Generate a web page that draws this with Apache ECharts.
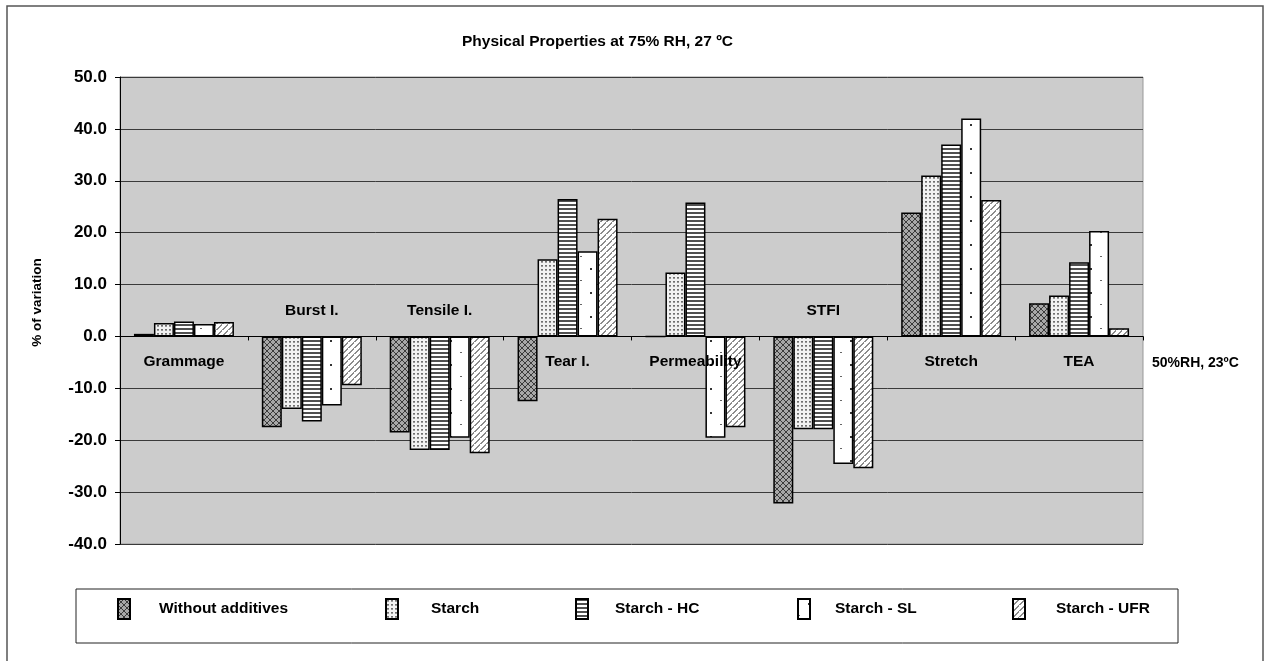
<!DOCTYPE html>
<html>
<head>
<meta charset="utf-8">
<title>Physical Properties at 75% RH, 27 ºC</title>
<script src="https://cdn.jsdelivr.net/npm/echarts@6/dist/echarts.min.js"></script>
<style>
  html, body { margin: 0; padding: 0; background: #ffffff; }
  #chart { width: 1265px; height: 661px; }
</style>
</head>
<body>
<div id="chart"></div>
<script>
// Property categories along the x axis
const categories = ['Grammage', 'Burst I.', 'Tensile I.', 'Tear I.', 'Permeability', 'STFI', 'Stretch', 'TEA'];
// Categories whose label sits above the zero line
const labelsAbove = ['Burst I.', 'Tensile I.', 'STFI'];

// % of variation (75% RH, 27 ºC vs 50% RH, 23 ºC)
const withoutAdditives = [0.5, -17.5, -18.5, -12.5, 0.0, -32.2, 23.9, 6.4];
const starch           = [2.6, -14.0, -21.9, 14.9, 12.3, -17.9, 31.0, 7.9];
const starchHC         = [2.9, -16.4, -21.9, 26.5, 25.8, -17.9, 37.0, 14.3];
const starchSL         = [2.4, -13.3, -19.5, 16.4, -19.5, -24.6, 42.0, 20.3];
const starchUFR        = [2.8, -9.4, -22.5, 22.7, -17.5, -25.4, 26.3, 1.6];

const yTicks = { min: -40, max: 50, step: 10 };

const FONT = '"Liberation Sans", Arial, sans-serif';

// Fill patterns drawn into small tiles
function tile(w, h, bg, draw) {
  const c = document.createElement('canvas');
  c.width = w; c.height = h;
  const g = c.getContext('2d');
  g.fillStyle = bg;
  g.fillRect(0, 0, w, h);
  draw(g);
  return { image: c, repeat: 'repeat' };
}
const px = (g, col, x, y, w, h) => { g.fillStyle = col; g.fillRect(x, y, w || 1, h || 1); };

const patCross = tile(6, 6, '#a8a8a8', g => {
  for (let i = 0; i < 6; i++) {
    px(g, '#3c3c3c', i, i);
    px(g, '#3c3c3c', 5 - i, i);
  }
});
const patDots = tile(4, 4, '#f2f2f2', g => {
  px(g, '#707070', 1, 1, 2, 1);
  px(g, '#9a9a9a', 1, 2, 2, 1);
});
const patHStripe = tile(4, 4, '#ffffff', g => {
  px(g, '#505050', 0, 0, 4, 2);
});
const patSparse = tile(20, 24, '#ffffff', g => {
  px(g, '#333333', 10, 4, 2, 2);
  px(g, '#666666', 0, 16, 2, 1);
});
const patDiag = tile(6, 6, '#ffffff', g => {
  for (let i = 0; i < 6; i++) {
    px(g, '#8c8c8c', (11 - i) % 6, i, 2, 1);
  }
});

const seriesDefs = [
  { name: 'Without additives', data: withoutAdditives, fill: patCross },
  { name: 'Starch',            data: starch,           fill: patDots },
  { name: 'Starch - HC',       data: starchHC,         fill: patHStripe },
  { name: 'Starch - SL',       data: starchSL,         fill: patSparse },
  { name: 'Starch - UFR',      data: starchUFR,        fill: patDiag }
];

const legendLeft = [117, 385, 575, 797, 1012];
const legendTextPad = [24, 28, 22, 20, 26];

const chart = echarts.init(document.getElementById('chart'), null, { renderer: 'canvas' });

const labelStyle = { fontFamily: FONT, fontWeight: 'bold', fontSize: 15.5, color: '#000' };

chart.setOption({
  backgroundColor: '#ffffff',
  animation: false,
  title: {
    text: 'Physical Properties at 75% RH, 27 ºC',
    left: 462,
    top: 34,
    padding: 0,
    textStyle: { fontFamily: FONT, fontWeight: 'bold', fontSize: 15.5, color: '#000' }
  },
  legend: seriesDefs.map((s, i) => ({
    data: [s.name],
    left: legendLeft[i],
    top: 598,
    padding: 0,
    icon: 'rect',
    itemWidth: 12,
    itemHeight: 20,
    selectedMode: false,
    textStyle: Object.assign({}, labelStyle, { padding: [0, 0, 10, legendTextPad[i]] })
  })),
  grid: {
    left: 120, top: 77, right: 122, bottom: 117,
    show: true,
    backgroundColor: '#cccccc',
    borderColor: '#999999',
    borderWidth: 1
  },
  xAxis: [
    {
      type: 'category',
      data: categories,
      z: 5,
      axisLine: { onZero: false, lineStyle: { color: '#000', width: 1 } },
      axisTick: { show: true, length: 4, lineStyle: { color: '#000' } },
      axisLabel: Object.assign({}, labelStyle, {
        interval: 0,
        margin: 17,
        formatter: v => (labelsAbove.includes(v) ? '' : v)
      }),
      splitLine: { show: false },
      name: '50%RH, 23ºC',
      nameLocation: 'end',
      nameGap: 9,
      nameTextStyle: {
        fontFamily: FONT, fontWeight: 'bold', fontSize: 14, color: '#000',
        align: 'left', verticalAlign: 'top', padding: [20, 0, 0, 0]
      }
    },
    {
      type: 'category',
      data: categories,
      position: 'bottom',
      z: 5,
      axisLine: { show: false, onZero: false },
      axisTick: { show: false },
      axisLabel: Object.assign({}, labelStyle, {
        interval: 0,
        inside: true,
        margin: 18,
        formatter: v => (labelsAbove.includes(v) ? v : '')
      }),
      splitLine: { show: false }
    }
  ],
  yAxis: {
    type: 'value',
    min: yTicks.min,
    max: yTicks.max,
    interval: yTicks.step,
    axisLine: { show: true, lineStyle: { color: '#000', width: 1 } },
    axisTick: { show: true, length: 5, lineStyle: { color: '#000' } },
    axisLabel: {
      fontFamily: FONT, fontWeight: 'bold', fontSize: 17, color: '#000',
      margin: 13,
      formatter: v => v.toFixed(1)
    },
    splitLine: { show: true, lineStyle: { color: '#3a3a3a', width: 1 } },
    name: '% of variation',
    nameLocation: 'middle',
    nameRotate: 90,
    nameGap: 76,
    nameTextStyle: {
      fontFamily: FONT, fontWeight: 'bold', fontSize: 13.5, color: '#000',
      padding: [0, 0, 0, 16]
    }
  },
  graphic: [
    {
      type: 'rect', silent: true, z: -1,
      shape: { x: 7, y: 6, width: 1256, height: 700 },
      style: { fill: null, stroke: '#555555', lineWidth: 1.5 }
    },
    {
      type: 'rect', silent: true, z: -1,
      shape: { x: 76, y: 589, width: 1102, height: 54 },
      style: { fill: '#ffffff', stroke: '#222222', lineWidth: 1 }
    }
  ],
  series: seriesDefs.map(s => ({
    name: s.name,
    type: 'bar',
    data: s.data,
    barWidth: 20,
    barGap: '0%',
    itemStyle: { color: s.fill, borderColor: '#000', borderWidth: 1.5 }
  }))
});

// Lift both category axes from the grid bottom up to the zero value of the y scale
const zeroY = chart.convertToPixel({ yAxisIndex: 0 }, 0);
const bottomY = chart.convertToPixel({ yAxisIndex: 0 }, yTicks.min);
const lift = -(bottomY - zeroY);
chart.setOption({ xAxis: [{ offset: lift }, { offset: lift }] });
</script>
</body>
</html>
